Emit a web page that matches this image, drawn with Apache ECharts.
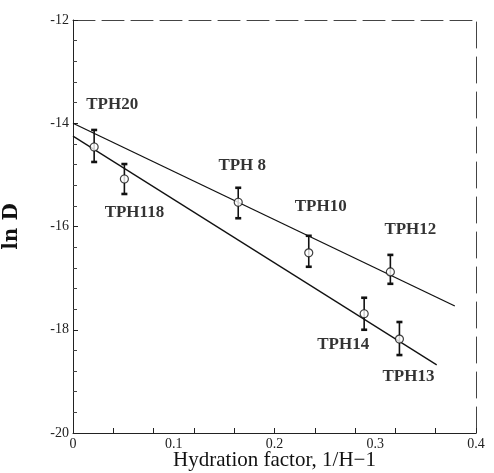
<!DOCTYPE html>
<html>
<head>
<meta charset="utf-8">
<script src="https://cdn.jsdelivr.net/npm/echarts@6/dist/echarts.min.js"></script>
<style>
  html, body { margin: 0; padding: 0; background: #ffffff; }
  #chart { width: 494px; height: 473px; }
</style>
</head>
<body>
<div id="chart"></div>
<script>
// Sample names and measured values (hydration factor vs ln D)
const sampleNames = ['TPH20', 'TPH118', 'TPH 8', 'TPH10', 'TPH12', 'TPH14', 'TPH13'];
const hydration   = [0.021, 0.051, 0.164, 0.234, 0.315, 0.289, 0.324];
const lnD         = [-14.46, -15.08, -15.53, -16.51, -16.88, -17.69, -18.18];
const errLow      = [-14.75, -15.37, -15.84, -16.78, -17.11, -18.00, -18.49];
const errHigh     = [-14.13, -14.79, -15.25, -16.18, -16.55, -17.38, -17.85];

// Two fitted straight lines (end points in data units)
const upperFit = [[0, -14.00], [0.379, -17.54]];
const lowerFit = [[0, -14.25], [0.361, -18.68]];

// Axis ranges
const xRange = [0, 0.4];
const yRange = [-20, -12];

// Where each sample label sits relative to its point (pixels)
const labelOffsets = [[18, -42], [10, 34], [4, -37], [12, -46], [20, -42], [-21, 31], [9, 38]];

const serif = '"Liberation Serif", "DejaVu Serif", serif';

const pointData = hydration.map((x, i) => ({
  value: [x, lnD[i]],
  label: {
    show: true,
    formatter: sampleNames[i],
    position: 'inside',
    offset: labelOffsets[i],
    fontFamily: serif,
    fontWeight: 'bold',
    fontSize: 17,
    color: '#000',
    textBorderWidth: 0,
    textBorderColor: 'transparent'
  }
}));

const errData = hydration.map((x, i) => [x, errLow[i], errHigh[i]]);

const chart = echarts.init(document.getElementById('chart'), null, { renderer: 'canvas' });

chart.setOption({
  backgroundColor: '#ffffff',
  animation: false,
  grid: { left: 73, right: 18, top: 20, bottom: 40, containLabel: false, outerBoundsMode: 'none' },
  xAxis: [
    {
      type: 'value', min: xRange[0], max: xRange[1], interval: 0.1,
      position: 'bottom',
      name: 'Hydration factor, 1/H\u22121',
      nameLocation: 'middle', nameGap: 27,
      nameMoveOverlap: false,
      nameTextStyle: { fontFamily: serif, fontSize: 21, color: '#111', verticalAlign: 'middle' },
      axisLine: { show: true, onZero: false, lineStyle: { color: '#222', width: 1 } },
      axisTick: { show: false },
      axisLabel: { fontFamily: serif, fontSize: 14, color: '#222', margin: 4 },
      splitLine: { show: false }
    },
    {
      // fine tick marks along the bottom edge
      type: 'value', min: xRange[0], max: xRange[1], interval: 0.04,
      position: 'bottom',
      axisLine: { show: false, onZero: false },
      axisTick: { show: true, inside: true, length: 5, lineStyle: { color: '#222', width: 1 } },
      axisLabel: { show: false },
      splitLine: { show: false }
    },
    {
      // top frame edge
      type: 'value', min: xRange[0], max: xRange[1],
      position: 'top',
      axisLine: { show: true, onZero: false, lineStyle: { color: '#444', width: 1, type: [22, 7] } },
      axisTick: { show: false },
      axisLabel: { show: false },
      splitLine: { show: false }
    }
  ],
  yAxis: [
    {
      type: 'value', min: yRange[0], max: yRange[1], interval: 2,
      position: 'left',
      name: 'ln D',
      nameLocation: 'middle', nameGap: 51,
      nameRotate: 90,
      nameMoveOverlap: false,
      nameTextStyle: { fontFamily: '"DejaVu Serif", serif', fontWeight: 'bold', fontSize: 20, color: '#111' },
      axisLine: { show: true, onZero: false, lineStyle: { color: '#222', width: 1 } },
      axisTick: { show: true, inside: true, length: 5, lineStyle: { color: '#222', width: 1 } },
      minorTick: { show: true, splitNumber: 5, length: 4, lineStyle: { color: '#444', width: 1 } },
      axisLabel: { fontFamily: serif, fontSize: 14, color: '#222', margin: 4 },
      splitLine: { show: false },
      minorSplitLine: { show: false }
    },
    {
      // right frame edge
      type: 'value', min: yRange[0], max: yRange[1],
      position: 'right',
      axisLine: { show: true, onZero: false, lineStyle: { color: '#444', width: 1, type: [26, 9] } },
      axisTick: { show: false },
      axisLabel: { show: false },
      splitLine: { show: false }
    }
  ],
  series: [
    {
      name: 'fit upper', type: 'line', xAxisIndex: 0, yAxisIndex: 0,
      data: upperFit, showSymbol: false, symbol: 'none',
      lineStyle: { color: '#111', width: 1.3 }, z: 2
    },
    {
      name: 'fit lower', type: 'line', xAxisIndex: 0, yAxisIndex: 0,
      data: lowerFit, showSymbol: false, symbol: 'none',
      lineStyle: { color: '#111', width: 1.3 }, z: 2
    },
    {
      name: 'error bars', type: 'custom', xAxisIndex: 0, yAxisIndex: 0,
      data: errData, z: 3,
      renderItem: function (params, api) {
        const x = api.value(0);
        const top = api.coord([x, api.value(2)]);
        const bot = api.coord([x, api.value(1)]);
        const half = 3;
        const stroke = { stroke: '#111', lineWidth: 1.6 };
        const cap = { stroke: '#111', lineWidth: 2.6 };
        return {
          type: 'group',
          children: [
            { type: 'line', shape: { x1: top[0], y1: top[1], x2: bot[0], y2: bot[1] }, style: stroke },
            { type: 'line', shape: { x1: top[0] - half, y1: top[1], x2: top[0] + half, y2: top[1] }, style: cap },
            { type: 'line', shape: { x1: bot[0] - half, y1: bot[1], x2: bot[0] + half, y2: bot[1] }, style: cap }
          ]
        };
      }
    },
    {
      name: 'samples', type: 'scatter', xAxisIndex: 0, yAxisIndex: 0,
      data: pointData, symbol: 'circle', symbolSize: 8, z: 4,
      itemStyle: { color: '#ffffff', borderColor: '#111', borderWidth: 1.2 }
    }
  ]
});
</script>
</body>
</html>
